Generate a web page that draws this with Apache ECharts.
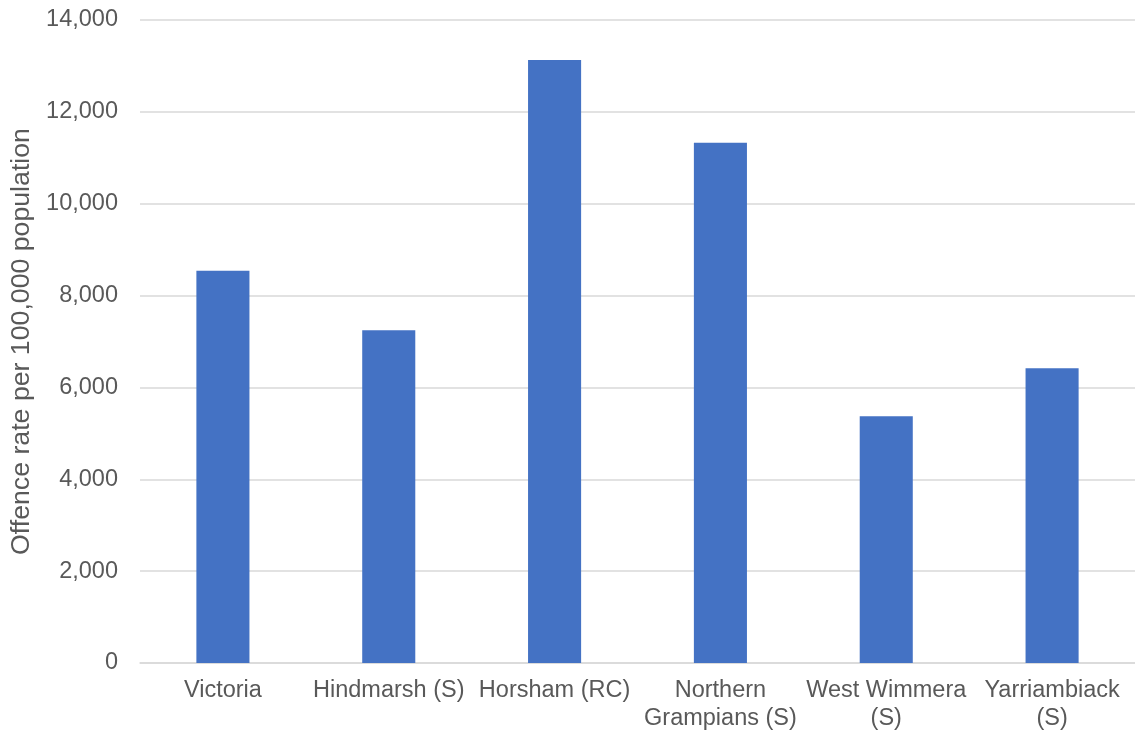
<!DOCTYPE html>
<html><head><meta charset="utf-8">
<script src="https://cdn.jsdelivr.net/npm/echarts@6/dist/echarts.min.js"></script>
<style>html,body{margin:0;padding:0;background:#fff}#c{width:1135px;height:733px}</style>
</head><body><div id="c"></div>
<script>
const categories = ["Victoria", "Hindmarsh (S)", "Horsham (RC)", "Northern\nGrampians (S)", "West Wimmera\n(S)", "Yarriambiack\n(S)"];
const offenceRate = [8540, 7245, 13130, 11325, 5370, 6415];
const yTicks = {min: 0, max: 14000, interval: 2000};
const yTitle = "Offence rate per 100,000 population";

const chart = echarts.init(document.getElementById('c'));
chart.setOption({
  animation: false,
  textStyle: {fontFamily: 'Liberation Sans, Arial, sans-serif'},
  grid: {left: 140, right: -5, top: 20, bottom: 60, containLabel: false},
  xAxis: {
    type: 'category', data: categories,
    axisLine: {lineStyle: {color: '#d9d9d9', width: 1.5}},
    axisTick: {show: false},
    axisLabel: {color: '#595959', fontSize: 23.5, margin: 14, lineHeight: 28, interval: 0}
  },
  yAxis: {
    type: 'value', min: yTicks.min, max: yTicks.max, interval: yTicks.interval,
    name: yTitle, nameLocation: 'middle', nameGap: 104, nameRotate: 90,
    nameTextStyle: {color: '#595959', fontSize: 26.7},
    axisLine: {show: false}, axisTick: {show: false},
    axisLabel: {color: '#595959', fontSize: 23.5, margin: 22,
      formatter: v => v.toLocaleString('en-US')},
    splitLine: {lineStyle: {color: '#d9d9d9', width: 1.5}}
  },
  series: [{type: 'bar', data: offenceRate, barWidth: '32%',
    itemStyle: {color: '#4472C4'}}]
});
</script></body></html>
